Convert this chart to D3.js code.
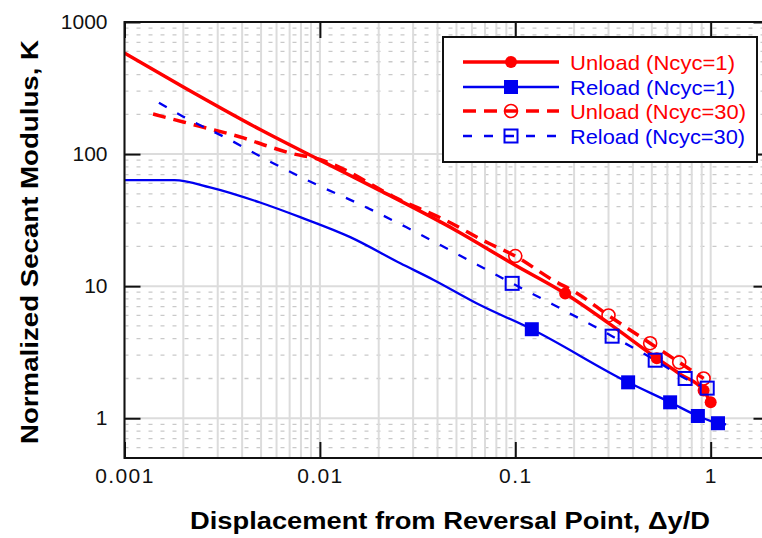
<!DOCTYPE html>
<html>
<head>
<meta charset="utf-8">
<script src="https://cdn.jsdelivr.net/npm/d3@7"></script>
<style>
  html, body { margin: 0; padding: 0; background: #fff; }
  svg { display: block; font-family: "Liberation Sans", Arial, sans-serif; }
</style>
</head>
<body>
<svg id="chart" width="762" height="538"></svg>
<script>
// Axis tick values
const xTicks = [0.001, 0.01, 0.1, 1];
const yTicks = [1, 10, 100, 1000];

// Unload, first cycle
const unload1X = [0.001, 0.002, 0.005, 0.01, 0.02, 0.05, 0.1, 0.18, 0.3, 0.53, 0.7, 0.92, 1.0];
const unload1K = [582, 322, 152, 90, 53.6, 26.3, 14.4, 8.8, 5.25, 2.85, 2.15, 1.62, 1.32];
const unload1Marks = [7, 9, 11, 12];

// Reload, first cycle
const reload1X = [0.001, 0.0018, 0.00274, 0.00494, 0.00793, 0.0143, 0.0258, 0.038, 0.066, 0.1215, 0.378, 0.62, 0.86, 1.09, 1.2];
const reload1K = [63.5, 63.5, 56, 43, 33.3, 23.5, 14.9, 11.2, 7.2, 4.72, 1.87, 1.32, 1.04, 0.917, 0.9];
const reload1Marks = [9, 10, 11, 12, 13];

// Unload, cycle 30
const unload30X = [0.0014, 0.002, 0.0024, 0.0041, 0.0054, 0.007, 0.01, 0.0257, 0.0438, 0.0727, 0.1, 0.156, 0.207, 0.3, 0.49, 0.69, 0.92];
const unload30K = [201, 175, 163, 132, 115, 102, 91, 45, 31.6, 21.2, 16.9, 11.1, 8.85, 6.0, 3.7, 2.65, 2.0];
const unload30Marks = [10, 13, 14, 15, 16];

// Reload, cycle 30
const reload30X = [0.0015, 0.002, 0.0034, 0.0057, 0.0098, 0.0164, 0.0276, 0.0464, 0.0964, 0.155, 0.257, 0.313, 0.52, 0.74, 0.96];
const reload30K = [245, 192, 130, 86, 58, 41, 28, 18.7, 10.5, 7.3, 4.9, 4.18, 2.75, 2.0, 1.69];
const reload30Marks = [8, 11, 12, 13, 14];

const seriesNames = ["Unload (Ncyc=1)", "Reload (Ncyc=1)", "Unload (Ncyc=30)", "Reload (Ncyc=30)"];

const RED = "#ff0000", BLUE = "#0000f0";

const series = [
  { name: seriesNames[0], xs: unload1X, ks: unload1K, marks: unload1Marks, color: RED, width: 3.5, dash: null, marker: "dot" },
  { name: seriesNames[1], xs: reload1X, ks: reload1K, marks: reload1Marks, color: BLUE, width: 2.3, dash: null, marker: "square" },
  { name: seriesNames[2], xs: unload30X, ks: unload30K, marks: unload30Marks, color: RED, width: 3.5, dash: "13,8", marker: "circle" },
  { name: seriesNames[3], xs: reload30X, ks: reload30K, marks: reload30Marks, color: BLUE, width: 2.3, dash: "9,12", marker: "openSquare" }
];

const pLeft = 124.5, pTop = 22, pBottom = 458, pRight = 769.5;
const svg = d3.select("#chart");

const x = d3.scaleLog().domain([0.001, 2]).range([pLeft, pRight]);
const y = d3.scaleLog().domain([0.5, 1000]).range([pBottom, pTop]);

// Grid positions (1..9 per decade)
const xGrid = [];
for (let e = -3; e <= 0; e++) for (let m = 1; m <= 9; m++) { const v = m * Math.pow(10, e); if (v <= 2) xGrid.push(v); }
xGrid.push(2);
const yMinor = [], yMajor = [];
for (let e = -1; e <= 2; e++) for (let m = 1; m <= 9; m++) {
  const v = m * Math.pow(10, e);
  if (v < 0.5 || v > 1000) continue;
  if (m === 1) yMajor.push(v); else yMinor.push(v);
}

const grid = svg.append("g");
grid.selectAll("line.ym").data(yMinor).join("line")
  .attr("x1", pLeft).attr("x2", pRight)
  .attr("y1", d => y(d)).attr("y2", d => y(d))
  .attr("stroke", "#c9c9c9").attr("stroke-width", 1.3).attr("stroke-dasharray", "4,8");
grid.selectAll("line.xg").data(xGrid).join("line")
  .attr("x1", d => x(d)).attr("x2", d => x(d))
  .attr("y1", pTop).attr("y2", pBottom)
  .attr("stroke", "#dcdcdc").attr("stroke-width", 2);
grid.selectAll("line.yM").data(yMajor.filter(v => v > 0.5 && v < 1000)).join("line")
  .attr("x1", pLeft).attr("x2", pRight)
  .attr("y1", d => y(d)).attr("y2", d => y(d))
  .attr("stroke", "#dcdcdc").attr("stroke-width", 2);

// Clip for the data
svg.append("clipPath").attr("id", "plotClip").append("rect")
  .attr("x", pLeft).attr("y", pTop).attr("width", pRight - pLeft).attr("height", pBottom - pTop);

const plot = svg.append("g").attr("clip-path", "url(#plotClip)");
const line = d3.line().x(d => x(d[0])).y(d => y(d[1])).curve(d3.curveMonotoneX);

function drawMarker(g, type, cx, cy, color) {
  if (type === "dot") {
    g.append("circle").attr("cx", cx).attr("cy", cy).attr("r", 6).attr("fill", color);
  } else if (type === "square") {
    g.append("rect").attr("x", cx - 7).attr("y", cy - 7).attr("width", 14).attr("height", 14).attr("fill", color);
  } else if (type === "circle") {
    g.append("circle").attr("cx", cx).attr("cy", cy).attr("r", 6.5).attr("fill", "none")
      .attr("stroke", color).attr("stroke-width", 1.6);
  } else {
    g.append("rect").attr("x", cx - 6.5).attr("y", cy - 6.5).attr("width", 13).attr("height", 13).attr("fill", "none")
      .attr("stroke", color).attr("stroke-width", 2);
  }
}

series.forEach(s => {
  const pts = s.xs.map((v, i) => [v, s.ks[i]]);
  plot.append("path").datum(pts)
    .attr("d", line).attr("fill", "none")
    .attr("stroke", s.color).attr("stroke-width", s.width)
    .attr("stroke-dasharray", s.dash);
});
series.forEach(s => {
  s.marks.forEach(i => drawMarker(plot, s.marker, x(s.xs[i]), y(s.ks[i]), s.color));
});

// Axes
function styleAxis(g) {
  g.select(".domain").remove();
  g.selectAll(".tick line").attr("stroke", "#111").attr("stroke-width", 2);
  g.selectAll(".tick text").attr("fill", "#111").style("font-size", "21px")
    .style("font-family", '"Liberation Sans", Arial, sans-serif');
}
const fmt = d => String(d);
svg.append("g").attr("transform", `translate(0,${pBottom})`)
  .call(d3.axisBottom(x).tickValues(xTicks).tickFormat(fmt).tickSizeInner(-16).tickSizeOuter(0).tickPadding(10))
  .call(styleAxis)
  .call(g => g.selectAll(".tick text").style("letter-spacing", "1.4px"));
svg.append("g").attr("transform", `translate(${pLeft},0)`)
  .call(d3.axisLeft(y).tickValues(yTicks).tickFormat(fmt).tickSizeInner(-16).tickSizeOuter(0).tickPadding(17))
  .call(styleAxis);
svg.append("g").attr("transform", `translate(0,${pTop})`)
  .call(d3.axisTop(x).tickValues(xTicks).tickFormat("").tickSizeInner(-16).tickSizeOuter(0))
  .call(styleAxis);
svg.append("g").attr("transform", `translate(${pRight},0)`)
  .call(d3.axisRight(y).tickValues(yTicks).tickFormat("").tickSizeInner(-16).tickSizeOuter(0))
  .call(styleAxis);

// Frame
svg.append("path")
  .attr("d", `M${pRight},${pTop}H${pLeft}V${pBottom}H${pRight}`)
  .attr("fill", "none").attr("stroke", "#111").attr("stroke-width", 2);

// Axis titles
svg.append("text")
  .attr("x", 450).attr("y", 529).attr("text-anchor", "middle")
  .attr("font-weight", "bold").attr("font-size", 23.5).attr("fill", "#000")
  .attr("textLength", 520).attr("lengthAdjust", "spacingAndGlyphs")
  .text("Displacement from Reversal Point, \u0394y/D");
svg.append("text")
  .attr("transform", "translate(38,242) rotate(-90)").attr("text-anchor", "middle")
  .attr("font-weight", "bold").attr("font-size", 23.5).attr("fill", "#000")
  .attr("textLength", 404).attr("lengthAdjust", "spacingAndGlyphs")
  .text("Normalized Secant Modulus, K");

// Legend
const lg = svg.append("g");
lg.append("rect").attr("x", 443).attr("y", 37).attr("width", 314).attr("height", 125)
  .attr("fill", "#fff").attr("stroke", "#111").attr("stroke-width", 2);
const rowY = [62, 87, 111, 136];
const textLens = [165, 165, 176, 175];
series.forEach((s, i) => {
  const yy = rowY[i];
  lg.append("line").attr("x1", 463).attr("x2", 559).attr("y1", yy).attr("y2", yy)
    .attr("stroke", s.color).attr("stroke-width", s.width).attr("stroke-dasharray", s.dash);
  drawMarker(lg, s.marker, 511, yy, s.color);
  lg.append("text").attr("x", 570).attr("y", yy + 7.5)
    .attr("font-size", 21).attr("fill", s.color)
    .attr("textLength", textLens[i]).attr("lengthAdjust", "spacingAndGlyphs")
    .text(s.name);
});
</script>
</body>
</html>
